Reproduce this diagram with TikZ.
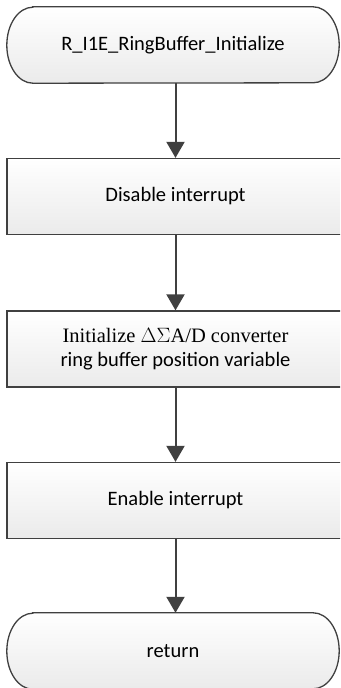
\documentclass[tikz,border=0pt]{standalone}
\usepackage{fontspec}
\setmainfont{Carlito}
\newfontfamily\timesfont{Liberation Serif}
\usetikzlibrary{arrows.meta}
\definecolor{edge}{HTML}{404040}
\tikzset{
  x=1pt, y=-1pt,
  look/.style={draw=edge, line width=1.3pt, top color=white, bottom color=black!8},
  txt/.style={inner sep=0pt, align=center, font=\fontsize{20.5}{24}\selectfont},
  term/.style={txt, minimum width=332pt, minimum height=76pt},
  proc/.style={txt, look, minimum width=337pt, minimum height=76pt},
  arr/.style={draw=edge, line width=2pt, -{Triangle[width=18pt,length=16pt]}}
}
\newcommand{\termshape}[1]{%
  \path[look] ([xshift=26pt]#1.north west) -- ([xshift=-26pt]#1.north east)
    arc[start angle=-90, end angle=90, x radius=26, y radius=38]
    -- ([xshift=26pt]#1.south west)
    arc[start angle=90, end angle=270, x radius=26, y radius=38] -- cycle;}
\begin{document}
\begin{tikzpicture}
\useasboundingbox (0,0) rectangle (340,688);
\clip (0,0) rectangle (340,688);
\path (173,45) node[term] (t1) {};
\termshape{t1}
\node[txt] (t1text) at (t1.center) {R\_I1E\_RingBuffer\_Initialize};
\node[proc] (b1) at (175.5,196.5) {Disable interrupt};
\node[proc] (b2) at (175.5,349) {{\timesfont Initialize $\Delta\Sigma$A/D converter}\\ring buffer position variable};
\node[proc] (b3) at (175.5,500.5) {Enable interrupt};
\path (173,651) node[term] (t2) {};
\termshape{t2}
\node[txt] (t2text) at (t2.center) {return};
\draw[arr] (t1.south -| b1.north) -- (b1.north);
\draw[arr] (b1.south) -- (b2.north);
\draw[arr] (b2.south) -- (b3.north);
\draw[arr] (b3.south) -- (b3.south |- t2.north);
\end{tikzpicture}
\end{document}
